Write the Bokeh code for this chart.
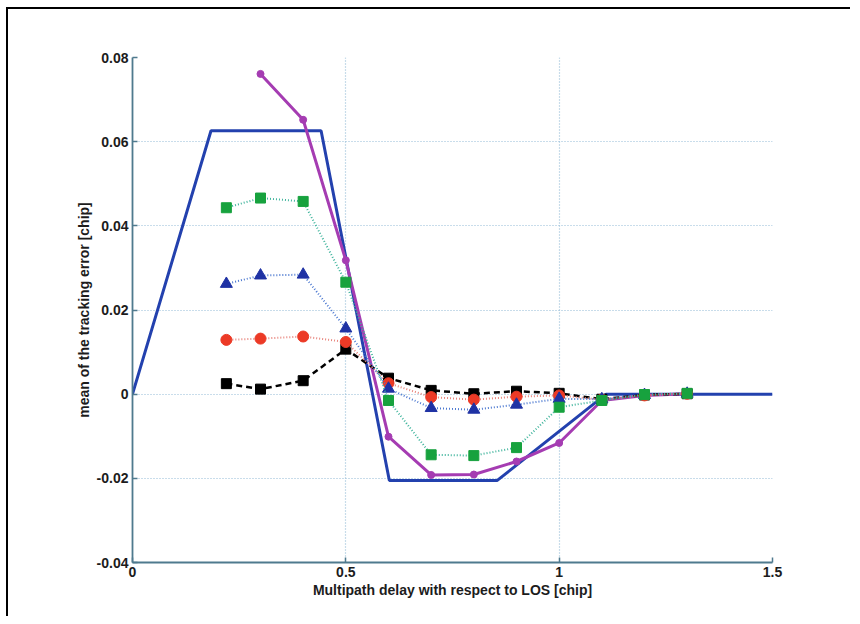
from bokeh.plotting import figure
from bokeh.models import Range1d, FixedTicker, CustomJSTickFormatter
from bokeh.embed import file_html
from bokeh.resources import INLINE

# multipath delay samples [chip]
delay = [0.22, 0.3, 0.4, 0.5, 0.6, 0.7, 0.8, 0.9, 1.0, 1.1, 1.2, 1.3]
delay_magenta = [0.3, 0.4, 0.5, 0.6, 0.7, 0.8, 0.9, 1.0, 1.1, 1.2, 1.3]

# mean tracking error [chip] per configuration
err_green = [0.0443, 0.0466, 0.0458, 0.0266, -0.0015, -0.0144, -0.0146, -0.0127, -0.0031, -0.0015, -0.0001, 0.0002]
err_triangle = [0.0262, 0.0282, 0.0284, 0.0156, 0.0013, -0.0033, -0.0037, -0.0025, -0.0011, -0.0012, -0.0002, 0.0001]
err_red = [0.0129, 0.0132, 0.0137, 0.0124, 0.0026, -0.0007, -0.0013, -0.0006, -0.0003, -0.0013, -0.0003, 0.0001]
err_black = [0.0025, 0.0012, 0.0032, 0.0107, 0.0038, 0.0009, 0.0001, 0.0007, 0.0002, -0.0012, -0.0002, 0.0001]
err_magenta = [0.0761, 0.0652, 0.0318, -0.0101, -0.0192, -0.0191, -0.0160, -0.0116, -0.0015, -0.0003, 0.0001]

# theoretical error envelope
env_delay = [0, 0.184, 0.442, 0.602, 0.855, 1.11, 1.5]
env_err = [0, 0.0626, 0.0626, -0.0205, -0.0205, 0, 0]

x_ticks = [0, 0.5, 1, 1.5]
y_ticks = [-0.04, -0.02, 0, 0.02, 0.04, 0.06, 0.08]

FONT = "Liberation Sans"
TEXT = "#1c1c1c"
BG = "#ffffff"

p = figure(
    frame_width=640, frame_height=505,
    min_border_left=124, min_border_right=80, min_border_top=48, min_border_bottom=56,
    x_range=Range1d(0, 1.5), y_range=Range1d(-0.04, 0.08),
    output_backend="svg", toolbar_location=None,
    background_fill_color=BG, border_fill_color=BG,
)
# page frame: a black rule along the top and the left edge
p.margin = (9, 0, 0, 8)
p.styles = {
    "box-shadow": "-2px -2px 0 0 #000000",
    "outline": "none",
    "border": "none",
    "overflow": "hidden",
}
p.outline_line_color = None

fmt = CustomJSTickFormatter(code="return String(Math.round(tick * 100) / 100);")
for ax, ticks in ((p.xaxis[0], x_ticks), (p.yaxis[0], y_ticks)):
    ax.ticker = FixedTicker(ticks=ticks)
    ax.formatter = fmt
    ax.axis_line_color = "#4f7a8e"
    ax.axis_line_width = 1.8
    ax.major_tick_line_color = "#4f7a8e"
    ax.major_tick_line_width = 1.5
    ax.major_tick_in = 5
    ax.major_tick_out = 0
    ax.minor_tick_line_color = None
    ax.major_label_text_font = FONT
    ax.major_label_text_font_style = "bold"
    ax.major_label_text_font_size = "14px"
    ax.major_label_text_color = TEXT
    ax.axis_label_text_font = FONT
    ax.axis_label_text_font_style = "bold"
    ax.axis_label_text_font_size = "14px"
    ax.axis_label_text_color = TEXT
    ax.axis_label_standoff = 2

p.xaxis.major_label_standoff = 4
p.yaxis.major_label_standoff = 4
p.xaxis.axis_label = "Multipath delay with respect to LOS [chip]"
p.yaxis.axis_label = "mean of the tracking error [chip]"

for g, ticks in ((p.xgrid[0], x_ticks), (p.ygrid[0], y_ticks)):
    g.ticker = FixedTicker(ticks=ticks)
    g.grid_line_color = "#92bad6"
    g.grid_line_dash = "1 2"
    g.grid_line_width = 1.2

# envelope
p.line(env_delay, env_err, line_color="#2341ae", line_width=3)

# magenta series
p.line(delay_magenta, err_magenta, line_color="#a53cb2", line_width=3)
p.scatter(delay_magenta, err_magenta, marker="circle", size=7,
          fill_color="#a53cb2", line_color="#a53cb2")

# black dashed squares
p.line(delay, err_black, line_color="#000000", line_width=2.5, line_dash="6 4")
p.scatter(delay, err_black, marker="square", size=10,
          fill_color="#000000", line_color="#000000")

# red circles
p.line(delay, err_red, line_color="#e8857d", line_width=2, line_dash="1 2")
p.scatter(delay, err_red, marker="circle", size=11,
          fill_color="#ec3a26", line_color="#ec3a26")

# blue triangles
p.line(delay, err_triangle, line_color="#4b78d0", line_width=2, line_dash="1 2")
p.scatter(delay, err_triangle, marker="triangle", size=12,
          fill_color="#1f32a4", line_color="#1f32a4")

# green squares
p.line(delay, err_green, line_color="#3fb49c", line_width=2, line_dash="1 2")
p.scatter(delay, err_green, marker="square", size=10,
          fill_color="#17a23e", line_color="#17a23e")

open("out.html", "w").write(file_html(p, INLINE))
